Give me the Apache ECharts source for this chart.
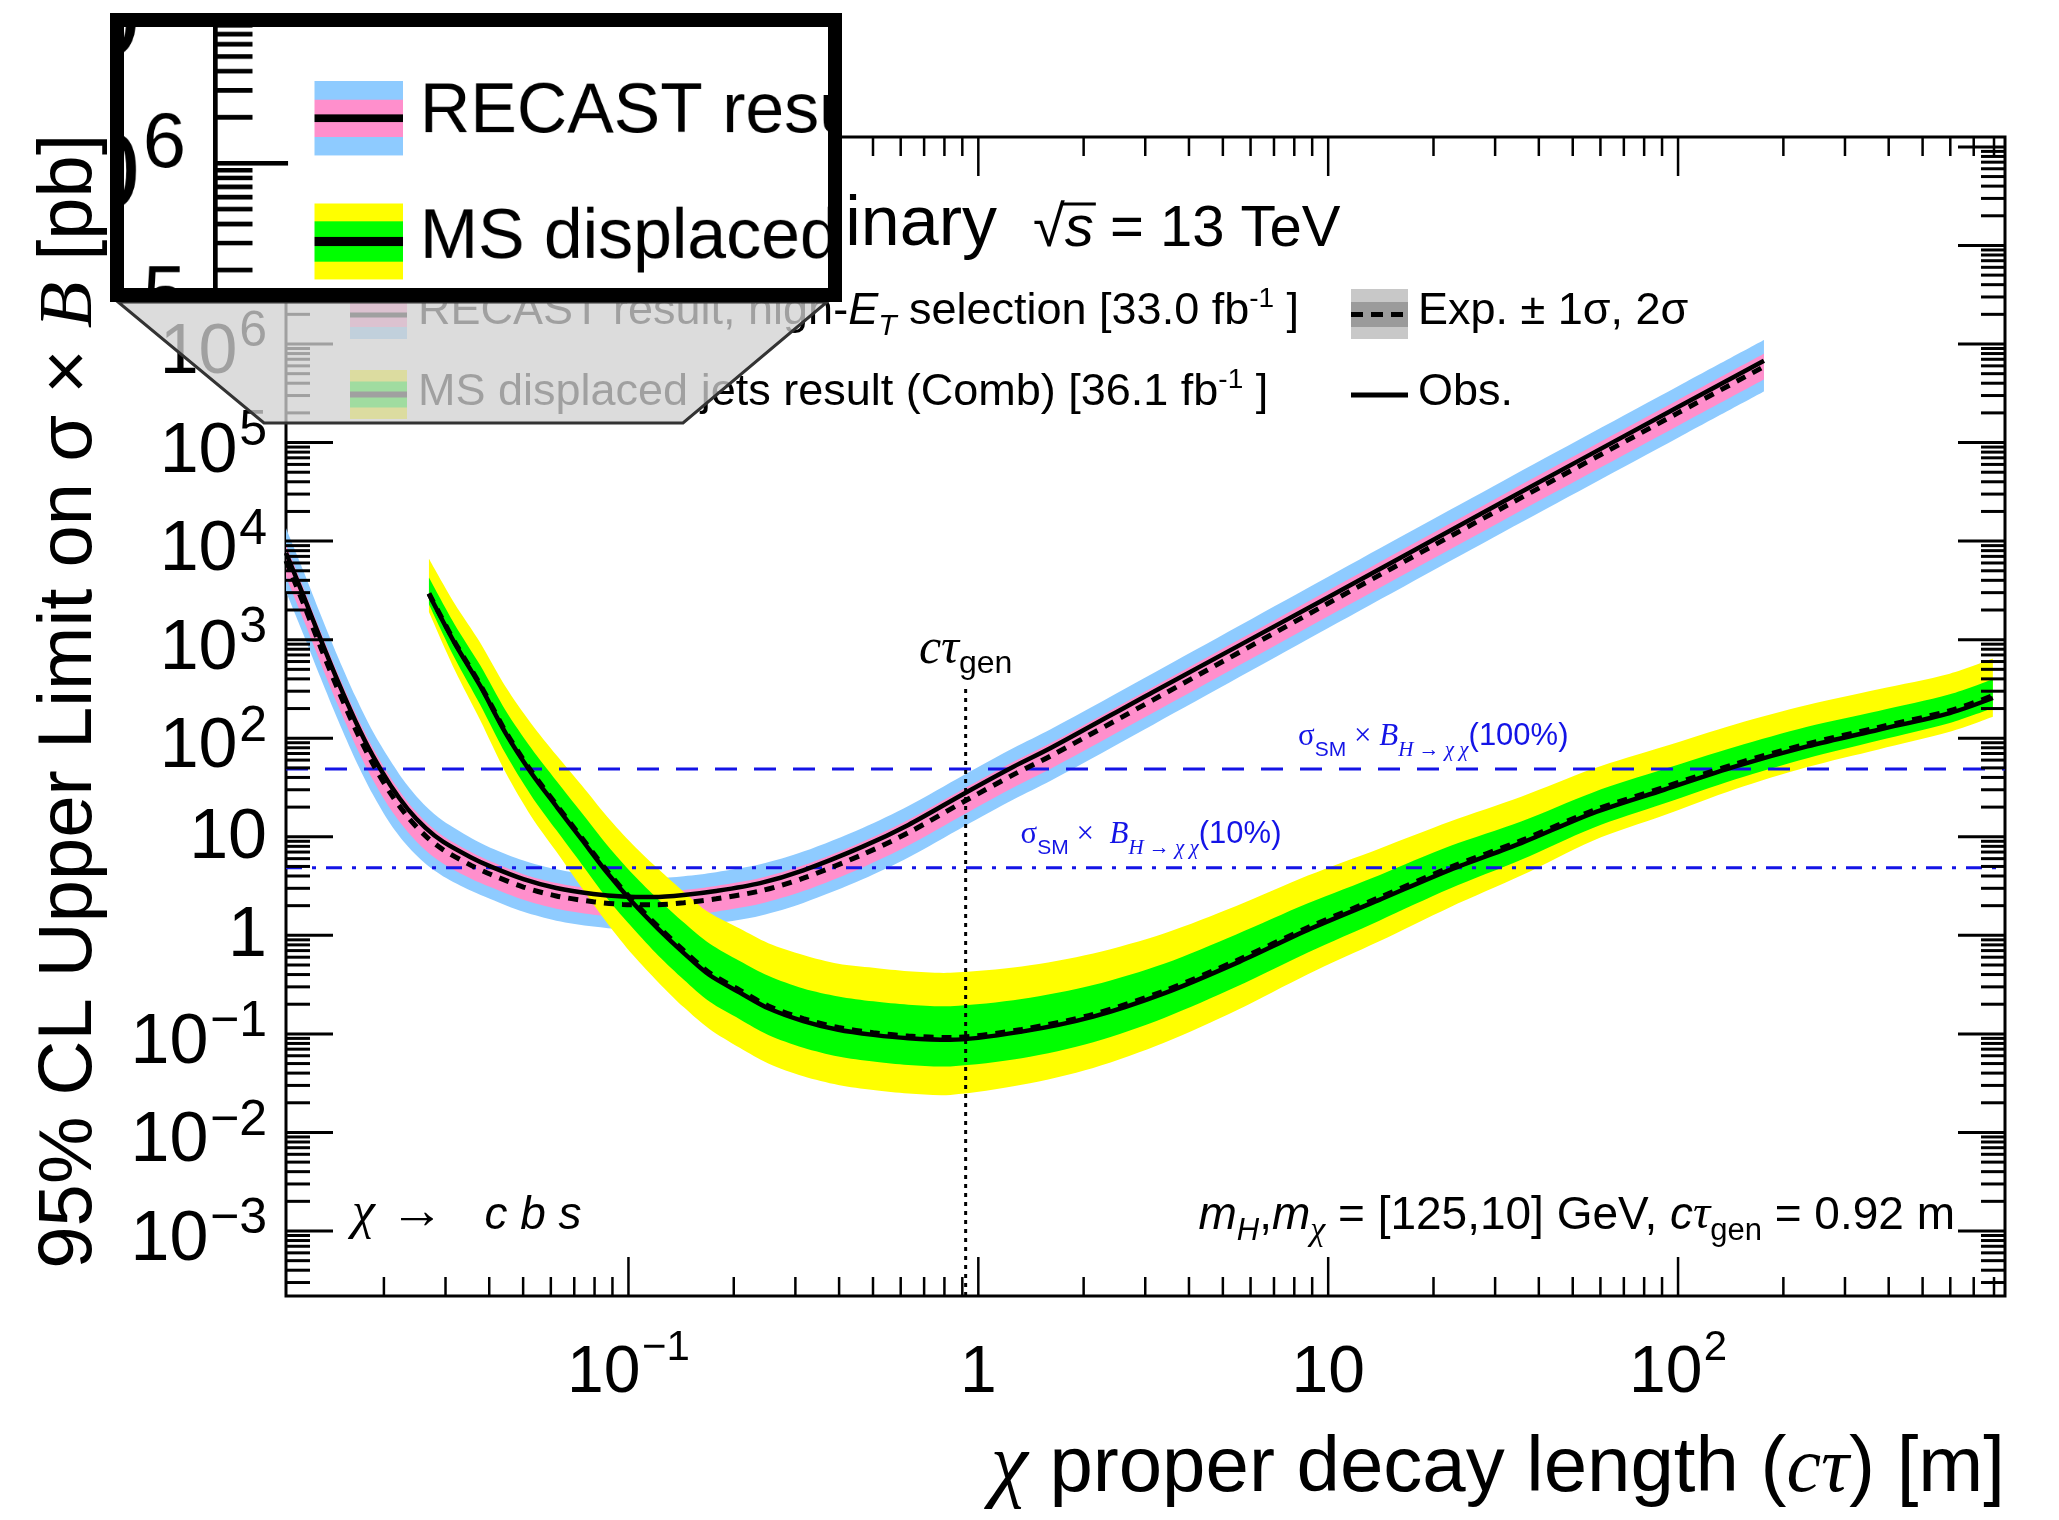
<!DOCTYPE html>
<html><head><meta charset="utf-8">
<script src="https://cdn.jsdelivr.net/npm/echarts@6/dist/echarts.min.js"></script>
<style>
html,body{margin:0;padding:0;background:#fff;overflow:hidden;}
#main{position:absolute;left:0;top:0;width:2059px;height:1520px;}
#inset{position:absolute;left:110px;top:13px;width:704px;height:261px;border:14px solid #000;background:#fff;overflow:hidden;}
#zoomChart{position:absolute;left:-352.3px;top:-397.25px;width:2059px;height:1520px;transform:scale(1.55);transform-origin:0 0;}
</style></head><body>
<div id="main"></div>
<div id="inset"><div id="zoomChart"></div></div>
<script>
// ---------------- data ----------------
const recastCtau = [0.0105, 0.0118, 0.0132, 0.0148, 0.0166, 0.0186, 0.0209, 0.0234, 0.0263, 0.0295, 0.0355, 0.0403, 0.0501, 0.0622, 0.0794, 0.0964, 0.118, 0.144, 0.178, 0.238, 0.316, 0.467, 0.631, 0.912, 1.26, 1.61, 3.16, 10, 31.6, 100, 176];
const recastObs = [7600, 2750, 1000, 372, 148, 66.1, 33.1, 19.1, 12.3, 8.91, 6.17, 5.01, 3.72, 3.02, 2.63, 2.48, 2.45, 2.57, 2.82, 3.39, 4.57, 7.94, 13.2, 27.5, 51.3, 79.4, 295, 2690, 25100, 229000, 676000];
const recastExp = [6320, 2290, 832, 309, 123, 55.0, 27.5, 15.9, 10.2, 7.41, 5.13, 4.17, 3.09, 2.51, 2.19, 2.06, 2.04, 2.14, 2.35, 2.82, 3.80, 6.61, 11.0, 22.9, 42.7, 66.1, 245, 2340, 21900, 200000, 589000];
const recastUp2 = [13500, 4900, 1780, 661, 263, 117, 58.9, 32.9, 20.5, 14.5, 9.73, 7.76, 5.75, 4.67, 4.07, 3.83, 3.79, 3.98, 4.37, 5.25, 7.07, 12.3, 20.5, 42.6, 79.4, 123, 456, 4350, 40700, 372000, 1096000];
const recastUp1 = [9130, 3310, 1200, 446, 178, 79.5, 39.7, 22.6, 14.3, 10.2, 7.00, 5.63, 4.17, 3.39, 2.96, 2.78, 2.75, 2.89, 3.17, 3.81, 5.13, 8.92, 14.9, 30.9, 57.6, 89.2, 331, 3160, 29600, 270000, 795000];
const recastDn1 = [4350, 1570, 573, 213, 84.6, 37.9, 19.0, 11.2, 7.29, 5.37, 3.76, 3.09, 2.29, 1.86, 1.62, 1.52, 1.51, 1.58, 1.74, 2.09, 2.81, 4.89, 8.14, 16.9, 31.6, 48.9, 181, 1730, 16200, 148000, 436000];
const recastDn2 = [3080, 1110, 405, 151, 59.9, 26.8, 13.4, 8.01, 5.31, 3.98, 2.83, 2.34, 1.73, 1.41, 1.23, 1.15, 1.14, 1.20, 1.32, 1.58, 2.13, 3.70, 6.16, 12.8, 23.9, 37.0, 137, 1310, 12300, 112000, 330000];

const msCtau = [0.0269, 0.0318, 0.0377, 0.0446, 0.0527, 0.0622, 0.0736, 0.0871, 0.103, 0.122, 0.144, 0.170, 0.208, 0.251, 0.316, 0.398, 0.501, 0.631, 0.832, 1.33, 2.13, 3.41, 5.46, 8.75, 14.0, 22.3, 35.6, 57.1, 91.2, 146, 234, 374, 598, 794];
const msObs = [2884, 933, 339, 112, 44.7, 20.4, 9.33, 4.27, 2.14, 1.15, 0.661, 0.398, 0.263, 0.182, 0.135, 0.110, 0.0977, 0.0902, 0.0871, 0.1054, 0.1496, 0.259, 0.522, 1.137, 2.29, 4.62, 8.63, 17.4, 30.0, 51.8, 82.6, 122, 180, 256];
const msExp = [2950, 960, 350, 116, 46.5, 21.2, 9.7, 4.45, 2.24, 1.21, 0.70, 0.42, 0.278, 0.192, 0.143, 0.116, 0.103, 0.095, 0.092, 0.111, 0.158, 0.274, 0.553, 1.20, 2.42, 4.89, 9.14, 18.4, 31.8, 54.9, 87.5, 129, 190, 270];
const msUp2 = [6604, 2342, 932, 330, 141, 67.5, 33.1, 15.9, 8.32, 4.68, 2.76, 1.70, 1.17, 0.832, 0.632, 0.514, 0.468, 0.432, 0.417, 0.482, 0.654, 1.05, 1.98, 4.04, 7.58, 14.3, 25.5, 49.1, 82.5, 139, 217, 314, 452, 643];
const msUp1 = [4268, 1446, 549, 190, 79.6, 37.1, 17.4, 8.16, 4.17, 2.30, 1.35, 0.832, 0.550, 0.389, 0.289, 0.240, 0.214, 0.198, 0.191, 0.226, 0.313, 0.518, 1.02, 2.11, 4.08, 8.04, 14.3, 28.2, 48.6, 82.1, 131, 189, 279, 397];
const msDn1 = [2290, 661, 219, 69.1, 26.3, 11.7, 5.24, 2.35, 1.18, 0.618, 0.355, 0.214, 0.141, 0.0977, 0.0725, 0.0591, 0.0525, 0.0484, 0.0468, 0.0566, 0.0823, 0.146, 0.300, 0.670, 1.41, 2.98, 5.83, 12.3, 21.7, 38.4, 62.7, 94.7, 143, 203];
const msDn2 = [1906, 501, 152, 44.6, 16.2, 7.08, 3.02, 1.32, 0.631, 0.331, 0.186, 0.113, 0.0723, 0.0501, 0.0371, 0.0303, 0.0269, 0.0248, 0.0240, 0.0304, 0.0452, 0.0818, 0.173, 0.404, 0.870, 1.93, 4.04, 9.14, 16.5, 30.5, 51.0, 77.0, 116, 165];

const sigmaSM100 = 48.6;   // sigma_SM x B = 100%
const sigmaSM10 = 4.86;    // sigma_SM x B = 10%
const ctauGen = 0.92;
const ctauLineTop = 316;

const xTickValues = [0.1, 1, 10, 100];
const xTickLabels = ['10^\u22121', '1', '10', '10^2'];
const yTickValues = [1e-3, 1e-2, 1e-1, 1, 10, 100, 1e3, 1e4, 1e5, 1e6, 1e7, 1e8];
const yTickLabels = ['10^\u22123', '10^\u22122', '10^\u22121', '1', '10', '10^2', '10^3', '10^4', '10^5', '10^6', '10^7', '10^8'];

const X_MIN = 0.0105, X_MAX = 860, Y_MIN = 2.19e-4, Y_MAX = 1.26e8;

// ---------------- styling helpers ----------------
const SANS = "'Liberation Sans', Arial, Helvetica, sans-serif";
const SERIF = "'Liberation Serif', 'Times New Roman', serif";
const C_BLUE = '#8ecbff', C_PINK = '#ff8fcc', C_YELLOW = '#ffff00', C_GREEN = '#00ff00';
const C_REF = '#1414e6';
const ctx2d = document.createElement('canvas').getContext('2d');

function fontOf(p, size) {
  return (p.it ? 'italic ' : 'normal ') + (p.b ? 'bold ' : 'normal ') + (p.s || size) + 'px ' + (p.serif ? SERIF : SANS);
}
function runs(parts, x, baseline, align, color, size, z) {
  const fonts = parts.map(p => fontOf(p, size));
  const widths = parts.map((p, i) => { ctx2d.font = fonts[i]; return ctx2d.measureText(p.t).width; });
  const total = widths.reduce((a, b) => a + b, 0);
  let cx = align === 'right' ? x - total : (align === 'center' ? x - total / 2 : x);
  return parts.map((p, i) => {
    const s = p.s || size;
    const k = p.serif ? 0.3375 : 0.3465;
    const el = {
      type: 'text', x: cx, y: baseline + (p.dy || 0) - k * s, silent: true,
      style: { text: p.t, font: fonts[i], fill: p.c || color, align: 'left', textAlign: 'left', verticalAlign: 'middle', textVerticalAlign: 'middle' }
    };
    if (z != null) el.z = z;
    cx += widths[i];
    return el;
  });
}
function bez(p, s) {
  const n = p.length, cpA = [], cpB = [];
  for (let i = 0; i < n; i++) {
    if (i === 0 || i === n - 1) { cpA[i] = p[i]; cpB[i] = p[i]; continue; }
    const vx = p[i + 1][0] - p[i - 1][0], vy = p[i + 1][1] - p[i - 1][1];
    const d0 = Math.hypot(p[i][0] - p[i - 1][0], p[i][1] - p[i - 1][1]);
    const d1 = Math.hypot(p[i + 1][0] - p[i][0], p[i + 1][1] - p[i][1]);
    const r = d1 / (d0 + d1 || 1);
    cpA[i] = [p[i][0] + vx * s * r, p[i][1] + vy * s * r];
    cpB[i] = [p[i][0] - vx * s * (1 - r), p[i][1] - vy * s * (1 - r)];
  }
  let out = '';
  for (let i = 0; i < n - 1; i++) {
    out += ' C ' + cpA[i][0] + ' ' + cpA[i][1] + ' ' + cpB[i + 1][0] + ' ' + cpB[i + 1][1] + ' ' + p[i + 1][0] + ' ' + p[i + 1][1];
  }
  return out;
}

// ---------------- series builders ----------------
function band(name, xs, lo, hi, color) {
  return {
    name, type: 'custom', coordinateSystem: 'cartesian2d', silent: true, z: 1, data: [[1, 1]],
    renderItem: function (params, api) {
      const up = xs.map((x, i) => api.coord([x, hi[i]]));
      const dn = xs.map((x, i) => api.coord([x, lo[i]])).reverse();
      const d = 'M ' + up[0][0] + ' ' + up[0][1] + bez(up, 0.3) + ' L ' + dn[0][0] + ' ' + dn[0][1] + bez(dn, 0.3) + ' Z';
      return { type: 'path', shape: { pathData: d }, style: { fill: color } };
    }
  };
}
function curve(name, xs, ys, dash, width) {
  return {
    name, type: 'line', data: xs.map((x, i) => [x, ys[i]]), symbol: 'none', smooth: 0.3, silent: true, z: 3,
    lineStyle: { color: '#000', width: width, type: dash || 'solid', cap: 'butt' }
  };
}
function refLine(name, pts, color, dash, width) {
  return {
    name, type: 'line', data: pts, symbol: 'none', silent: true, z: 2,
    lineStyle: { color: color, width: width, type: dash, cap: 'butt' }
  };
}

function renderAxes(params, api) {
  const cs = params.coordSys;
  const L = cs.x, R = cs.x + cs.width, T = cs.y, B = cs.y + cs.height;
  const ch = [];
  const ln = (x1, y1, x2, y2, w) => ch.push({ type: 'line', silent: true, shape: { x1, y1, x2, y2 }, style: { stroke: '#000', lineWidth: w } });
  for (let d = -4; d <= 8; d++) {
    for (let k = 1; k <= 9; k++) {
      const v = k * Math.pow(10, d);
      if (v < Y_MIN || v > Y_MAX) continue;
      const y = api.coord([X_MIN, v])[1];
      const len = k === 1 ? 47 : 24;
      ln(L, y, L + len, y, 3);
      ln(R - len, y, R, y, 3);
    }
  }
  for (let d = -2; d <= 2; d++) {
    for (let k = 1; k <= 9; k++) {
      const v = k * Math.pow(10, d);
      if (v < X_MIN || v > X_MAX) continue;
      const x = api.coord([v, Y_MIN])[0];
      const len = k === 1 ? 39 : 19;
      ln(x, B, x, B - len, 2.5);
      ln(x, T, x, T + len, 2.5);
    }
  }
  yTickValues.forEach((v, i) => {
    if (v < Y_MIN || v > Y_MAX) return;
    const y = api.coord([X_MIN, v])[1];
    const parts = yTickLabels[i].split('^');
    const xr = L - 19;
    if (parts[1]) {
      ch.push(...runs([{ t: parts[0], s: 70 }, { t: ' ', s: 6 }, { t: parts[1], s: 50, dy: -28 }], xr, y + 34, 'right', '#000', 70));
    } else {
      ch.push(...runs([{ t: parts[0], s: 70 }], xr, y + 26, 'right', '#000', 70));
    }
  });
  xTickValues.forEach((v, i) => {
    const x = api.coord([v, Y_MIN])[0];
    const parts = xTickLabels[i].split('^');
    if (parts[1]) {
      ch.push(...runs([{ t: parts[0], s: 66 }, { t: ' ', s: 5 }, { t: parts[1], s: 42, dy: -34 }], x, B + 101, 'center', '#000', 66));
    } else {
      ch.push(...runs([{ t: parts[0], s: 66 }], x, B + 101, 'center', '#000', 66));
    }
  });
  return { type: 'group', children: ch };
}

function renderAnnot(params, api) {
  const id = api.value(2);
  const p = api.coord([api.value(0), api.value(1)]);
  let els;
  if (id === 0) {
    els = runs([{ t: '\u03c3', serif: true }, { t: 'SM', s: 21, dy: 10 }, { t: ' \u00d7 ', serif: true }, { t: 'B', serif: true, it: true },
      { t: 'H \u2192 \u03c7 \u03c7', serif: true, it: true, s: 21, dy: 10 }, { t: '(100%)' }], p[0], p[1] - 22, 'left', C_REF, 31);
  } else if (id === 1) {
    els = runs([{ t: '\u03c3', serif: true }, { t: 'SM', s: 21, dy: 10 }, { t: ' \u00d7  ', serif: true }, { t: 'B', serif: true, it: true },
      { t: 'H \u2192 \u03c7 \u03c7', serif: true, it: true, s: 21, dy: 10 }, { t: '(10%)' }], p[0], p[1] - 22, 'left', C_REF, 31);
  } else {
    els = runs([{ t: 'c', serif: true, it: true }, { t: '\u03c4', serif: true, it: true }, { t: 'gen', s: 32, dy: 8 }], p[0], p[1] - 22, 'center', '#000', 50);
  }
  return { type: 'group', children: els };
}

// ---------------- decorations (legend, labels) ----------------
function buildGraphic(withOverlay) {
  const g = [];
  const Z = 50;
  // experiment label
  g.push(...runs([{ t: 'ATLAS', b: true, it: true }, { t: ' Preliminary' }], 997, 250, 'right', '#000', 70, Z));
  g.push(...runs([{ t: '\u221a' }, { t: 's', it: true }, { t: ' = 13 TeV' }], 1033, 250, 'left', '#000', 58, Z));
  ctx2d.font = fontOf({}, 58); const wRoot = ctx2d.measureText('\u221a').width;
  ctx2d.font = fontOf({ it: true }, 58); const wS = ctx2d.measureText('s').width;
  g.push({ type: 'line', z: Z, silent: true, shape: { x1: 1033 + wRoot - 3, y1: 204, x2: 1033 + wRoot + wS + 2, y2: 204 }, style: { stroke: '#000', lineWidth: 3 } });

  // legend swatches
  const sw = (x, y, w, h, c) => g.push({ type: 'rect', z: Z, silent: true, shape: { x, y, width: w, height: h }, style: { fill: c } });
  sw(350, 291, 57, 48, C_BLUE); sw(350, 303, 57, 24, C_PINK); sw(350, 312.5, 57, 5, '#000');
  sw(350, 370, 57, 49, C_YELLOW); sw(350, 381.5, 57, 26, C_GREEN); sw(350, 391.5, 57, 6, '#000');
  sw(1351, 289, 57, 50, '#c8c8c8'); sw(1351, 302, 57, 25, '#9b9b9b');
  g.push({ type: 'line', z: Z, silent: true, shape: { x1: 1351, y1: 314.5, x2: 1408, y2: 314.5 }, style: { stroke: '#000', lineWidth: 5, lineDash: [12, 8] } });
  g.push({ type: 'line', z: Z, silent: true, shape: { x1: 1351, y1: 395, x2: 1408, y2: 395 }, style: { stroke: '#000', lineWidth: 5 } });
  // legend texts
  g.push(...runs([{ t: 'RECAST result, high-' }, { t: 'E', it: true }, { t: 'T', it: true, s: 30, dy: 10 }, { t: ' selection [33.0 fb' }, { t: '-1', s: 28, dy: -18 }, { t: ' ]' }], 418, 327, 'left', '#000', 45, Z));
  g.push(...runs([{ t: 'MS displaced jets result (Comb) [36.1 fb' }, { t: '-1', s: 28, dy: -18 }, { t: ' ]' }], 418, 408, 'left', '#000', 45, Z));
  g.push(...runs([{ t: 'Exp. \u00b1 1\u03c3, 2\u03c3' }], 1418, 327, 'left', '#000', 45, Z));
  g.push(...runs([{ t: 'Obs.' }], 1418, 408, 'left', '#000', 45, Z));

  // in-plot texts
  g.push(...runs([{ t: '\u03c7', serif: true, it: true, s: 52 }, { t: ' \u2192 ', s: 54 }, { t: '  c b s', it: true }], 352, 1232, 'left', '#000', 46, Z));
  g.push(...runs([{ t: 'm', it: true }, { t: 'H', it: true, s: 31, dy: 10 }, { t: ',' }, { t: 'm', it: true }, { t: '\u03c7', serif: true, it: true, s: 34, dy: 11 },
    { t: ' = [125,10] GeV, ' }, { t: 'c', it: true }, { t: '\u03c4', serif: true, it: true, s: 48 }, { t: 'gen', s: 31, dy: 10 }, { t: ' = 0.92 m' }], 1955, 1232, 'right', '#000', 46, Z));

  // axis titles
  g.push(...runs([{ t: '\u03c7', serif: true, it: true, s: 84 }, { t: ' proper decay length (' }, { t: 'c', serif: true, it: true }, { t: '\u03c4', serif: true, it: true }, { t: ') [m]' }], 2005, 1497, 'right', '#000', 78, Z));
  g.push({
    type: 'group', x: 70, y: 134, rotation: Math.PI / 2, z: Z,
    children: runs([{ t: '95% CL Upper Limit on \u03c3 \u00d7 ' }, { t: 'B', serif: true, it: true }, { t: ' [pb]' }], 0, 0.3465 * 76, 'right', '#000', 76, Z)
  });

  if (withOverlay) {
    g.push({
      type: 'polygon', z: 100, silent: true,
      shape: { points: [[118, 302], [827, 302], [683, 423], [264, 423]] },
      style: { fill: 'rgba(209,209,209,0.765)', stroke: '#333', lineWidth: 3 }
    });
  }
  return g;
}

function buildOption(withOverlay) {
  const hidden = { axisLine: { show: false }, axisTick: { show: false }, axisLabel: { show: false }, splitLine: { show: false }, minorTick: { show: false }, minorSplitLine: { show: false } };
  return {
    animation: false,
    backgroundColor: '#ffffff',
    grid: { left: 286, right: 54, top: 137, bottom: 224, show: true, borderColor: '#000', borderWidth: 3, backgroundColor: 'rgba(0,0,0,0)' },
    xAxis: Object.assign({ type: 'log', logBase: 10, min: X_MIN, max: X_MAX }, hidden),
    yAxis: Object.assign({ type: 'log', logBase: 10, min: Y_MIN, max: Y_MAX }, hidden),
    series: [
      band('RECAST \u00b12\u03c3', recastCtau, recastDn2, recastUp2, C_BLUE),
      band('RECAST \u00b11\u03c3', recastCtau, recastDn1, recastUp1, C_PINK),
      band('MS \u00b12\u03c3', msCtau, msDn2, msUp2, C_YELLOW),
      band('MS \u00b11\u03c3', msCtau, msDn1, msUp1, C_GREEN),
      refLine('100%', [[X_MIN, sigmaSM100], [X_MAX, sigmaSM100]], C_REF, [22, 17], 3),
      refLine('10%', [[X_MIN, sigmaSM10], [X_MAX, sigmaSM10]], C_REF, [16, 10, 4, 10], 3),
      refLine('ctau gen', [[ctauGen, Y_MIN], [ctauGen, ctauLineTop]], '#000', [4, 5], 3),
      curve('RECAST exp', recastCtau, recastExp, [10, 8], 5),
      curve('RECAST obs', recastCtau, recastObs, 'solid', 4.5),
      curve('MS exp', msCtau, msExp, [10, 8], 5),
      curve('MS obs', msCtau, msObs, 'solid', 4.5),
      { name: 'axes', type: 'custom', coordinateSystem: 'cartesian2d', silent: true, z: 5, data: [[1, 1]], renderItem: renderAxes },
      { name: 'annotations', type: 'custom', coordinateSystem: 'cartesian2d', silent: true, z: 5,
        data: [[8.2, sigmaSM100, 0], [1.32, sigmaSM10, 1], [ctauGen, ctauLineTop, 2]], renderItem: renderAnnot }
    ],
    graphic: { elements: buildGraphic(withOverlay) }
  };
}

const mainChart = echarts.init(document.getElementById('main'), null, { renderer: 'canvas' });
mainChart.setOption(buildOption(true));
const zoomChart = echarts.init(document.getElementById('zoomChart'), null, { renderer: 'canvas', devicePixelRatio: 2 });
zoomChart.setOption(buildOption(false));
</script>
</body></html>
